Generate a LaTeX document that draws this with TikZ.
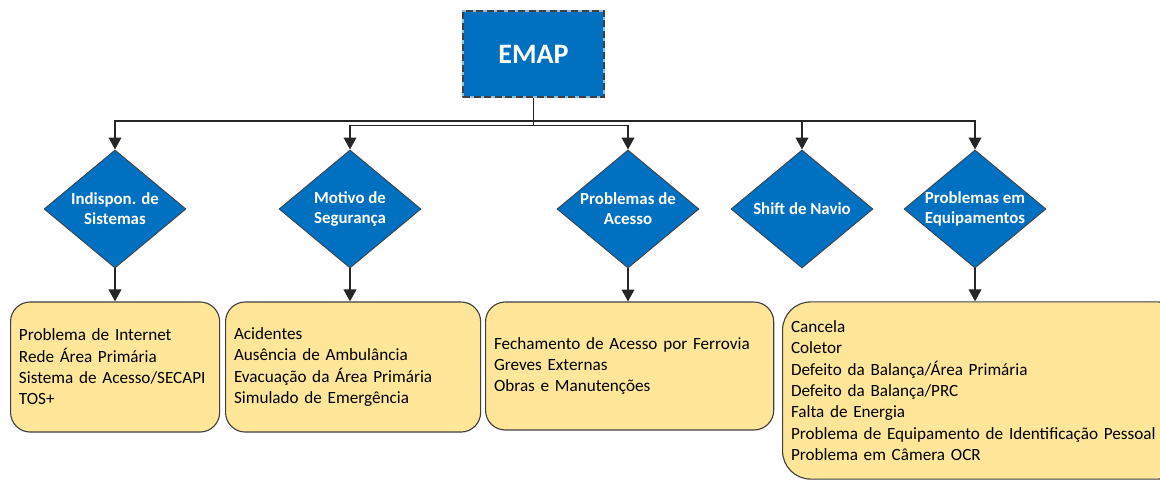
\documentclass[tikz,border=0pt]{standalone}
\usepackage{fontspec}
\setmainfont{Carlito}
\usepackage{tikz}
\usetikzlibrary{arrows.meta,shapes.geometric}

\definecolor{emapblue}{HTML}{0070C0}
\definecolor{edgegray}{HTML}{404040}
\definecolor{linegray}{HTML}{262626}
\definecolor{boxyellow}{HTML}{FFE699}

\begin{document}
\begin{tikzpicture}[
  x=0.025cm, y=-0.025cm,
  root/.style={rectangle, fill=emapblue, draw=emapblue!45, line width=1.4pt,
    postaction={draw=edgegray, line width=1.4pt, dash pattern=on 5pt off 2.5pt},
    minimum width=100.3pt, minimum height=61.2pt, text=white,
    font=\fontsize{20}{24}\selectfont\bfseries},
  decision/.style={diamond, fill=emapblue, draw=edgegray, line width=0.6pt,
    minimum width=101pt, minimum height=84pt, inner sep=0pt},
  dtext/.style={text=white, align=center, inner sep=0pt,
    font=\fontsize{12}{14.4}\selectfont\bfseries},
  listbox/.style={rectangle, rounded corners=14pt, fill=boxyellow, draw=edgegray,
    line width=0.8pt, align=left, inner xsep=6pt, anchor=west,
    minimum height=92.5pt, font=\fontsize{12.2}{15.2}\selectfont},
  link/.style={draw=linegray, line width=1.1pt, ->},
  >={Triangle[width=9pt,length=8.5pt]}
]
\path[use as bounding box, clip] (0,0) rectangle (1160,481);

% top of the chart
\node[root] (emap) at (533.5,54) {EMAP};

% second level
\node[decision, label={[dtext]center:Indispon. de\\Sistemas}] (d1) at (115,209) {};
\node[decision, label={[dtext]center:Motivo de\\Segurança}] (d2) at (350,209) {};
\node[decision, label={[dtext]center:Problemas de\\Acesso}] (d3) at (628,209) {};
\node[decision, label={[dtext]center:Shift de Navio}] (d4) at (802,209) {};
\node[decision, label={[dtext]center:Problemas em\\Equipamentos}] (d5) at (975,209) {};

% lists of causes
\node[listbox, text width=136.7pt] (b1) at (10,367)
  {Problema de Internet\\Rede Área Primária\\Sistema de Acesso/SECAPI\\TOS+};
\node[listbox, text width=169.4pt] (b2) at (225,367)
  {Acidentes\\Ausência de Ambulância\\Evacuação da Área Primária\\Simulado de Emergência};
\node[listbox, text width=192.9pt, minimum height=91pt] (b3) at (485,366)
  {Fechamento de Acesso por Ferrovia\\Greves Externas\\Obras e Manutenções};
\node[listbox, text width=275pt, minimum height=126pt, rounded corners=20pt] (b4) at (782,390.5)
  {Cancela\\Coletor\\Defeito da Balança/Área Primária\\Defeito da Balança/PRC\\Falta de Energia\\Problema de Equipamento de Identificação Pessoal\\Problema em Câmera OCR};

% connectors
\draw[link] (emap.south) -- ++(0,27.5) -| (d2.north);
\draw[link] (emap.south) -- ++(0,27.5) -| (d3.north);
\draw[link] (emap.south) -- ++(0,23) -| (d1.north);
\draw[link] (emap.south) -- ++(0,23) -| (d4.north);
\draw[link] (emap.south) -- ++(0,23) -| (d5.north);

\draw[link] (d1.south) -- (d1.south |- b1.north);
\draw[link] (d2.south) -- (d2.south |- b2.north);
\draw[link] (d3.south) -- (d3.south |- b3.north);
\draw[link] (d5.south) -- (d5.south |- b4.north);

\end{tikzpicture}
\end{document}
